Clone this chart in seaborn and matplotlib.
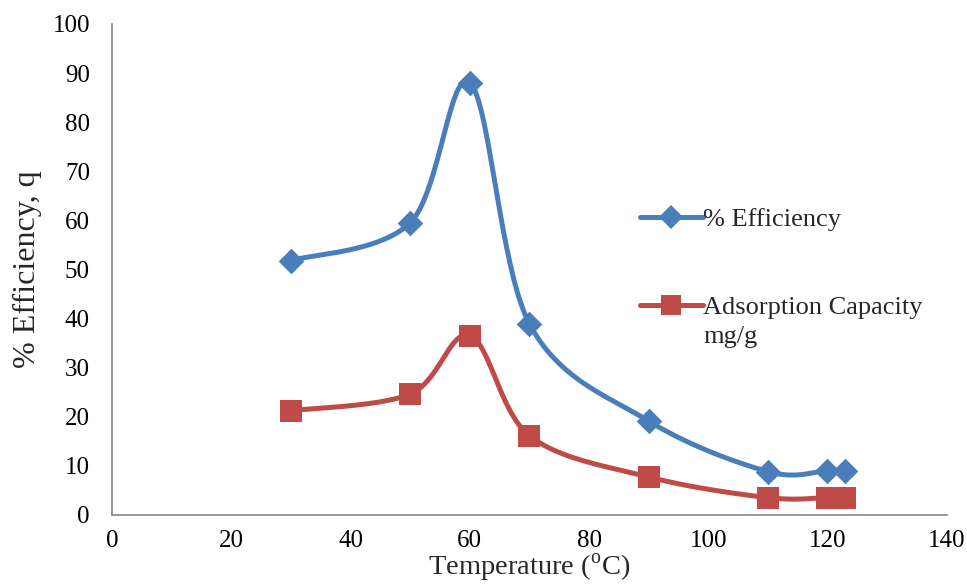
import numpy as np
import pandas as pd
import matplotlib
matplotlib.use("Agg")
import matplotlib.pyplot as plt
from matplotlib.lines import Line2D
import seaborn as sns

temperature = [30, 50, 60, 70, 90, 110, 120, 123]
efficiency = [51.8, 59.5, 88.0, 38.9, 19.1, 8.8, 9.0, 9.0]
capacity = [21.2, 24.6, 36.5, 16.1, 7.7, 3.5, 3.5, 3.5]
x_ticks = [0, 20, 40, 60, 80, 100, 120, 140]
y_ticks = [0, 10, 20, 30, 40, 50, 60, 70, 80, 90, 100]

BLUE = "#4A7EBB"
RED = "#BE4B48"
AXIS_GREY = "#868686"

sns.set_theme(style="white")
plt.rcParams["font.family"] = ["Liberation Serif", "DejaVu Serif"]
plt.rcParams["mathtext.fontset"] = "custom"
plt.rcParams["mathtext.rm"] = "Liberation Serif"


def smooth(x, y, n=40):
    """Catmull-Rom style Bezier smoothing through every point."""
    x = np.asarray(x, float)
    y = np.asarray(y, float)
    px = np.concatenate([[x[0]], x, [x[-1]]])
    py = np.concatenate([[y[0]], y, [y[-1]]])
    xs, ys = [], []
    t = np.linspace(0, 1, n)
    for i in range(1, len(px) - 2):
        p0 = np.array([px[i], py[i]])
        p3 = np.array([px[i + 1], py[i + 1]])
        p1 = p0 + (np.array([px[i + 1], py[i + 1]]) - np.array([px[i - 1], py[i - 1]])) / 6
        p2 = p3 - (np.array([px[i + 2], py[i + 2]]) - np.array([px[i], py[i]])) / 6
        b = ((1 - t) ** 3)[:, None] * p0 + (3 * (1 - t) ** 2 * t)[:, None] * p1 \
            + (3 * (1 - t) * t ** 2)[:, None] * p2 + (t ** 3)[:, None] * p3
        xs.append(b[:, 0])
        ys.append(b[:, 1])
    return np.concatenate(xs), np.concatenate(ys)


df = pd.DataFrame({"T": temperature, "eff": efficiency, "cap": capacity})

fig = plt.figure(figsize=(9.67, 5.85), dpi=100)
ax = fig.add_axes([0.116, 0.12, 0.863, 0.839])

ex, ey = smooth(temperature, efficiency)
cx, cy = smooth(temperature, capacity)
ax.plot(ex, ey, color=BLUE, lw=3.6, solid_capstyle="round", zorder=2)
ax.plot(cx, cy, color=RED, lw=3.6, solid_capstyle="round", zorder=2)

sns.scatterplot(data=df, x="T", y="eff", ax=ax, marker="D", s=170,
                color=BLUE, edgecolor=BLUE, linewidth=0, zorder=3)
sns.scatterplot(data=df, x="T", y="cap", ax=ax, marker="s", s=250,
                color=RED, edgecolor=RED, linewidth=0, zorder=3)

ax.set_xlim(0, 140)
ax.set_ylim(0, 100)
ax.set_xticks(x_ticks)
ax.set_yticks(y_ticks)
ax.tick_params(axis="both", labelsize=18, colors=AXIS_GREY, labelcolor="black",
               direction="out", length=6, width=1.2)
ax.tick_params(axis="x", pad=5)
ax.tick_params(axis="y", pad=10)

for side in ("top", "right"):
    ax.spines[side].set_visible(False)
for side in ("left", "bottom"):
    ax.spines[side].set_color(AXIS_GREY)
    ax.spines[side].set_linewidth(1.2)

ax.set_xlabel(r"Temperature ($^{\mathrm{o}}$C)", fontsize=20.5, va="bottom")
ax.xaxis.set_label_coords(0.5, -0.140)
ax.set_ylabel("% Efficiency, q", fontsize=23)
ax.yaxis.set_label_coords(-0.084, 0.5)

handles = [
    Line2D([0], [0], color=BLUE, lw=3.6, marker="D", markersize=12,
           markeredgewidth=0),
    Line2D([0], [0], color=RED, lw=3.6, marker="s", markersize=15,
           markeredgewidth=0),
]
leg = ax.legend(handles, ["% Efficiency", "Adsorption Capacity"],
                loc="upper left", bbox_to_anchor=(0.632, 0.626), frameon=False,
                fontsize=19, handlelength=2.4, handletextpad=0.0,
                labelspacing=2.45, borderpad=0, borderaxespad=0)
# second line of the capacity label, hung under its legend text
ax.annotate("mg/g", xy=(0, 0), xycoords=leg.get_texts()[1],
            xytext=(0, -5), textcoords="offset points",
            ha="left", va="top", fontsize=19, zorder=6)

fig.savefig("out.png", dpi=100)
